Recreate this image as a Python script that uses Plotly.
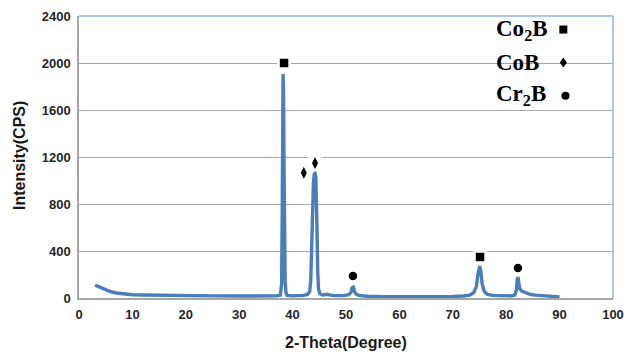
import plotly.graph_objects as go

# XRD pattern
two_theta = [3.0, 3.3, 3.6, 4.0, 4.5, 5.0, 5.5, 6.0, 7.0, 8.0, 9.0, 10.0, 12.0, 15.0, 20.0, 25.0,
             30.0, 35.0, 37.0, 37.7, 37.95, 38.05, 38.15, 38.22, 38.3, 38.4, 38.5, 38.6, 38.75, 39.0,
             40.0, 41.0, 42.0, 42.8, 43.2, 43.4, 43.5, 43.6, 43.7, 43.8, 43.9, 44.05, 44.2, 44.35,
             44.5, 44.6, 44.7, 44.85, 45.1, 45.6, 46.5, 47.0, 48.0, 49.5, 50.5, 50.9, 51.15, 51.35,
             51.6, 51.9, 52.4, 54.0, 57.0, 60.0, 65.0, 70.0, 72.0, 73.2, 73.9, 74.4, 74.7, 74.9,
             75.05, 75.25, 75.5, 75.9, 76.5, 77.5, 79.0, 81.0, 81.6, 81.9, 82.05, 82.2, 82.35, 82.55,
             82.9, 83.4, 83.9, 84.6, 85.5, 87.0, 88.5, 90.0]
intensity = [110, 104, 98, 90, 80, 70, 61, 53, 43, 36, 31, 28, 25, 22, 20, 18,
             17, 17, 18, 25, 120, 700, 1500, 1906, 1750, 1100, 450, 150, 45, 22,
             18, 18, 22, 30, 55, 150, 380, 640, 670, 760, 980, 1055, 1060, 1030,
             820, 520, 230, 80, 35, 25, 32, 24, 20, 20, 28, 45, 88, 92,
             55, 32, 22, 15, 12, 11, 12, 13, 17, 25, 45, 95, 200, 265,
             272, 225, 120, 55, 30, 22, 18, 18, 25, 65, 150, 179, 130, 80,
             58, 48, 38, 30, 24, 18, 14, 10]

# Phase markers
co2b_x = [38.4, 75.1]
co2b_y = [2000, 350]
cob_x = [42.1, 44.2]
cob_y = [1065, 1148]
cr2b_x = [51.3, 82.2]
cr2b_y = [188, 256]

x_ticks = [0, 10, 20, 30, 40, 50, 60, 70, 80, 90, 100]
y_ticks = [0, 400, 800, 1200, 1600, 2000, 2400]

BLUE = "#4A7EBB"
GRID = "#A6A6A6"
BORDER = "#8EB4E3"

fig = go.Figure()
fig.add_trace(go.Scatter(x=two_theta, y=intensity, mode="lines",
                         line=dict(color=BLUE, width=3.4), showlegend=False,
                         hoverinfo="skip"))
mk_line = dict(color="white", width=1.5)
fig.add_trace(go.Scatter(x=co2b_x, y=co2b_y, mode="markers", showlegend=False,
                         marker=dict(symbol="square", size=10, color="black", line=mk_line)))
fig.add_trace(go.Scatter(x=cob_x, y=cob_y, mode="markers", showlegend=False,
                         marker=dict(symbol="diamond-tall", size=11, color="black", line=mk_line)))
fig.add_trace(go.Scatter(x=cr2b_x, y=cr2b_y, mode="markers", showlegend=False,
                         marker=dict(symbol="circle", size=10, color="black", line=mk_line)))

# white label boxes behind the phase markers (break the gridlines like the original)
for mx, my in zip(co2b_x + cob_x + cr2b_x, co2b_y + cob_y + cr2b_y):
    fig.add_shape(type="rect", xref="x", yref="y", x0=mx - 1.3, x1=mx + 1.3,
                  y0=my - 60, y1=my + 80, fillcolor="white", line=dict(width=0),
                  layer="between")

font_tick = dict(family="Liberation Sans", size=13, color="#262626")
font_title = dict(family="Liberation Sans", size=16, color="#1a1a1a")

fig.update_layout(
    width=624, height=352,
    margin=dict(l=79, r=11, t=16, b=54, autoexpand=False),
    paper_bgcolor="white", plot_bgcolor="white",
    xaxis=dict(range=[0, 100], tickvals=x_ticks, ticktext=["<b>%d</b>" % v for v in x_ticks],
               showgrid=False, zeroline=False, showline=True, linecolor=GRID, linewidth=1.5,
               ticks="", tickfont=font_tick, automargin=False, ticklabelstandoff=4),
    yaxis=dict(range=[0, 2400], tickvals=y_ticks, ticktext=["<b>%d</b>" % v for v in y_ticks],
               showgrid=True, gridcolor=GRID, gridwidth=1.2, zeroline=False,
               showline=True, linecolor=GRID, linewidth=1.5, ticks="", tickfont=font_tick,
               ticklabelstandoff=4, automargin=False),
)

# axis titles
fig.add_annotation(xref="paper", yref="paper", x=(346 - 79) / 534, y=-(342 - 298) / 282,
                   text="<b>2-Theta(Degree)</b>", showarrow=False, font=font_title,
                   xanchor="center", yanchor="middle")
fig.add_annotation(xref="paper", yref="paper", x=-(79 - 19) / 534, y=(298 - 156) / 282,
                   text="<b>Intensity(CPS)</b>", showarrow=False, font=font_title,
                   textangle=-90, xanchor="center", yanchor="middle")

# white legend backing that hides the gridline behind it
fig.add_shape(type="rect", xref="paper", yref="paper", x0=0.73, x1=1.0, y0=0.72, y1=0.995,
              fillcolor="white", line=dict(width=0), layer="between")
# top and right plot border
fig.add_shape(type="line", xref="paper", yref="paper", x0=0, x1=1, y0=1, y1=1,
              line=dict(color=BORDER, width=1.5), layer="above")
fig.add_shape(type="line", xref="paper", yref="paper", x0=1, x1=1, y0=0, y1=1,
              line=dict(color=BORDER, width=1.5), layer="above")

# legend (text + glyphs)
leg_font = dict(family="Liberation Serif", size=23, color="black")
legend_items = ["<b>Co<sub>2</sub>B</b>", "<b>CoB</b>", "<b>Cr<sub>2</sub>B</b>"]
legend_y = [0.950, 0.835, 0.720]
for txt, yy in zip(legend_items, legend_y):
    fig.add_annotation(xref="paper", yref="paper", x=0.777, y=yy, text=txt,
                       showarrow=False, xanchor="left", yanchor="middle", font=leg_font)
gx = 0.907
fig.add_shape(type="rect", xref="paper", yref="paper", xsizemode="pixel", ysizemode="pixel",
              xanchor=gx, yanchor=0.952, x0=-4, x1=4, y0=-4, y1=4,
              fillcolor="black", line=dict(width=0))
fig.add_shape(type="path", xref="paper", yref="paper", xsizemode="pixel", ysizemode="pixel",
              xanchor=gx, yanchor=0.835, path="M 0 -5 L 3.5 0 L 0 5 L -3.5 0 Z",
              fillcolor="black", line=dict(width=0))
fig.add_shape(type="circle", xref="paper", yref="paper", xsizemode="pixel", ysizemode="pixel",
              xanchor=gx + 0.004, yanchor=0.717, x0=-4, x1=4, y0=-4, y1=4,
              fillcolor="black", line=dict(width=0))

fig.write_html("out.html", config={"displayModeBar": False},
               post_script="document.body.style.margin='0';document.body.style.overflow='hidden';")
